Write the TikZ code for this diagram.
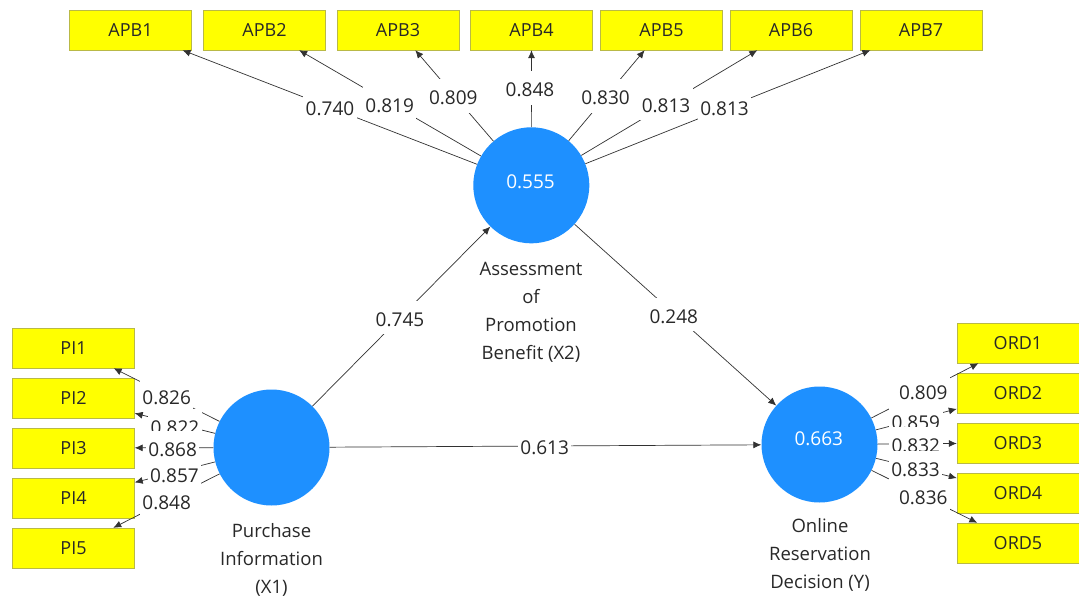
\documentclass[tikz,border=0pt]{standalone}
\usepackage{fontspec}
\setmainfont{Open Sans}
\usetikzlibrary{arrows.meta}
\definecolor{boxy}{RGB}{255,255,0}
\definecolor{boxb}{RGB}{185,185,70}
\definecolor{lv}{RGB}{30,144,255}
\definecolor{txt}{RGB}{40,40,40}
\definecolor{ln}{RGB}{50,50,50}
\begin{document}
\begin{tikzpicture}[x=1pt,y=-1pt,
  ind/.style={draw=boxb,fill=boxy,minimum width=122pt,minimum height=40pt,inner sep=0pt,font=\fontsize{18}{20}\selectfont,text=txt},
  lat/.style={circle,fill=lv,minimum size=116pt,inner sep=0pt,text=white,font=\fontsize{19}{20}\selectfont},
  captxt/.style={align=center,font=\fontsize{18.5}{28}\selectfont,text=txt},
  val/.style={anchor=base,fill=white,inner xsep=2.5pt,inner ysep=1.5pt,text height=24pt,text depth=6.5pt,font=\fontsize{19}{20}\selectfont,text=txt},
  arr/.style={draw=ln,line width=0.7pt,-{Latex[length=8pt,width=7pt]}}
]
\useasboundingbox (0,0) rectangle (1079,599);
\fill[white] (0,0) rectangle (1079,599);

% latent variables
\node[lat] (X2) at (531.3,185.3) {};
\node[lat] (X1) at (271.5,447.5) {};
\node[lat] (Y) at (819.5,444.5) {};
\node[anchor=base,text=white,font=\fontsize{19}{20}\selectfont] (X2v) at (530.5,188.5) {0.555};
\node[anchor=base,text=white,font=\fontsize{19}{20}\selectfont] (Yv) at (818.8,445.5) {0.663};
\node[captxt] (X2c) at (531,312) {Assessment\\of\\Promotion\\Benefit (X2)};
\node[captxt] (X1c) at (271.5,560) {Purchase\\Information\\(X1)};
\node[captxt] (Yc) at (820,555) {Online\\Reservation\\Decision (Y)};

% indicators
\node[ind] (APB1) at (130.5,30) {APB1};
\node[ind] (APB2) at (264.5,30) {APB2};
\node[ind] (APB3) at (398,30) {APB3};
\node[ind] (APB4) at (531.5,30) {APB4};
\node[ind] (APB5) at (661.5,30) {APB5};
\node[ind] (APB6) at (791,30) {APB6};
\node[ind] (APB7) at (921,30) {APB7};
\node[ind] (PI1) at (73.5,348) {PI1};
\node[ind] (PI2) at (73.5,398) {PI2};
\node[ind] (PI3) at (73.5,448) {PI3};
\node[ind] (PI4) at (73.5,498) {PI4};
\node[ind] (PI5) at (73.5,548) {PI5};
\node[ind] (ORD1) at (1018,343) {ORD1};
\node[ind] (ORD2) at (1018,393) {ORD2};
\node[ind] (ORD3) at (1018,443) {ORD3};
\node[ind] (ORD4) at (1018,493) {ORD4};
\node[ind] (ORD5) at (1018,543) {ORD5};

% connectors
\foreach \i in {1,...,7} {\draw[arr] (X2) -- (APB\i);}
\foreach \i in {1,...,5} {\draw[arr] (X1) -- (PI\i);}
\foreach \i in {1,...,5} {\draw[arr] (Y) -- (ORD\i);}
\draw[arr] (X1) -- (X2);
\draw[arr] (X2) -- (Y);
\draw[arr] (X1) -- (Y);

% loadings (positions are text baselines)
\node[val] (l1) at (330,116) {0.740};
\node[val] (l2) at (389.7,112.5) {0.819};
\node[val] (l3) at (453.3,105) {0.809};
\node[val] (l4) at (530,97) {0.848};
\node[val] (l5) at (605.5,105) {0.830};
\node[val] (l6) at (666,112.5) {0.813};
\node[val] (l7) at (724.5,116) {0.813};
\node[val] (p1) at (166.7,404) {0.826};
\node[val] (p2) at (175,434.5) {0.822};
\node[val] (p3) at (172.7,456) {0.868};
\node[val] (p4) at (174.5,482) {0.857};
\node[val] (p5) at (166.7,509) {0.848};
\node[val] (o1) at (923.3,399) {0.809};
\node[val] (o2) at (915.8,429) {0.859};
\node[val] (o3) at (915.8,452.5) {0.832};
\node[val] (o4) at (915.5,476) {0.833};
\node[val] (o5) at (923.3,504) {0.836};
% path coefficients
\node[val] (c1) at (400,326) {0.745};
\node[val] (c2) at (673.8,323) {0.248};
\node[val] (c3) at (544.7,454) {0.613};
\end{tikzpicture}
\end{document}
